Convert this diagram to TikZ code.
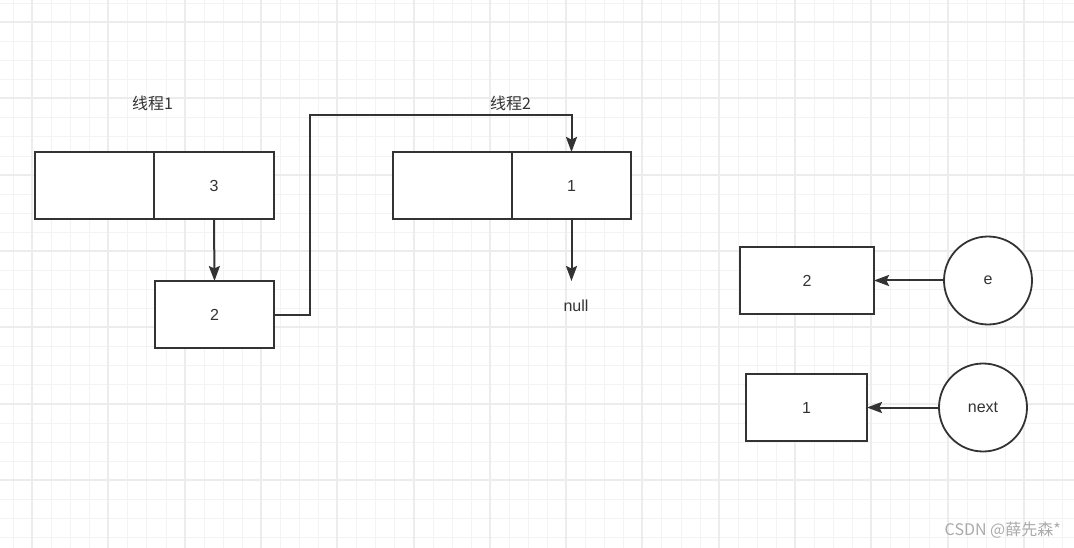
\documentclass[tikz,border=0pt]{standalone}
\usepackage{fontspec}
\setmainfont{Liberation Sans}
\newfontfamily\cjk{Noto Sans CJK SC}
\usetikzlibrary{arrows.meta}
\definecolor{minorgrid}{HTML}{F3F3F3}
\definecolor{majorgrid}{HTML}{ECECEC}
\definecolor{ink}{HTML}{333333}
\definecolor{wm}{HTML}{ABABAB}
\begin{document}
\begin{tikzpicture}[x=1pt,y=-1pt,
  cell/.style={draw=ink, line width=2pt, fill=white, inner sep=0pt, outer sep=0pt, minimum height=67pt, text=ink,
    font=\fontsize{16}{19}\selectfont},
  ring/.style={draw=ink, line width=1.8pt, fill=white, circle, inner sep=0pt, outer sep=0pt, minimum size=88pt, text=ink,
    font=\fontsize{16}{19}\selectfont},
  lbl/.style={text=ink, inner sep=0pt, font=\fontsize{16}{19}\selectfont},
  arr/.style={draw=ink, line width=2pt, -{Stealth[length=15pt,width=11pt,inset=2.5pt]}}]
\useasboundingbox (0,0) rectangle (1074,548);
\fill[white] (0,0) rectangle (1074,548);
% grid
\foreach \i in {-2,...,55}{
  \pgfmathsetmacro{\gx}{round(32+\i*19.075)+0.5}
  \draw[minorgrid, line width=1pt] (\gx,0) -- ++(0,548);}
\foreach \j in {-2,...,28}{
  \pgfmathsetmacro{\gy}{round(22+\j*19.075)+0.5}
  \draw[minorgrid, line width=1pt] (0,\gy) -- ++(1074,0);}
\foreach \i in {0,...,13}{
  \pgfmathsetmacro{\gx}{round(32+\i*76.3)}
  \draw[majorgrid, line width=2pt] (\gx,0) -- ++(0,548);}
\foreach \j in {-1,...,7}{
  \pgfmathsetmacro{\gy}{round(22+\j*76.3)}
  \draw[majorgrid, line width=2pt] (0,\gy) -- ++(1074,0);}

% thread 1
\node[lbl] (t1) at (152.5,103) {\cjk 线程1};
\node[cell, minimum width=119pt] (a1l) at (94.5,185.5) {};
\node[cell, minimum width=120pt] (a1r) at (214,185.5) {3};
\node[cell, minimum width=119pt] (s2) at (214.5,314.5) {2};

% thread 2
\node[lbl] (t2) at (510.5,103) {\cjk 线程2};
\node[cell, minimum width=119pt] (a2l) at (452.5,185.5) {};
\node[cell, minimum width=119pt] (a2r) at (571.5,185.5) {1};
\node[lbl] (null) at (576,306) {null};
\coordinate (nullend) at (571.5,281);
\coordinate (turn) at (310,115);

% right side
\node[cell, minimum width=134pt] (r2) at (807,280.5) {2};
\node[ring] (ce) at (988,280.5) {e};
\node[cell, minimum width=121pt] (r1) at (806.5,407.5) {1};
\node[ring] (cn) at (983,407.5) {next};

% connectors
\draw[arr] (a1r.south) -- (s2.north);
\draw[arr] (s2.east) -| (turn) -| (a2r.north);
\draw[arr] (a2r.south) -- (nullend);
\draw[arr] (ce.west) -- (r2.east);
\draw[arr] (cn.west) -- (r1.east);

% watermark
\node[text=wm, inner sep=0pt, anchor=east, font=\cjk\fontsize{16}{19}\selectfont] (wmk) at (1061,530.5) {CSDN @薛先森*};
\end{tikzpicture}
\end{document}
